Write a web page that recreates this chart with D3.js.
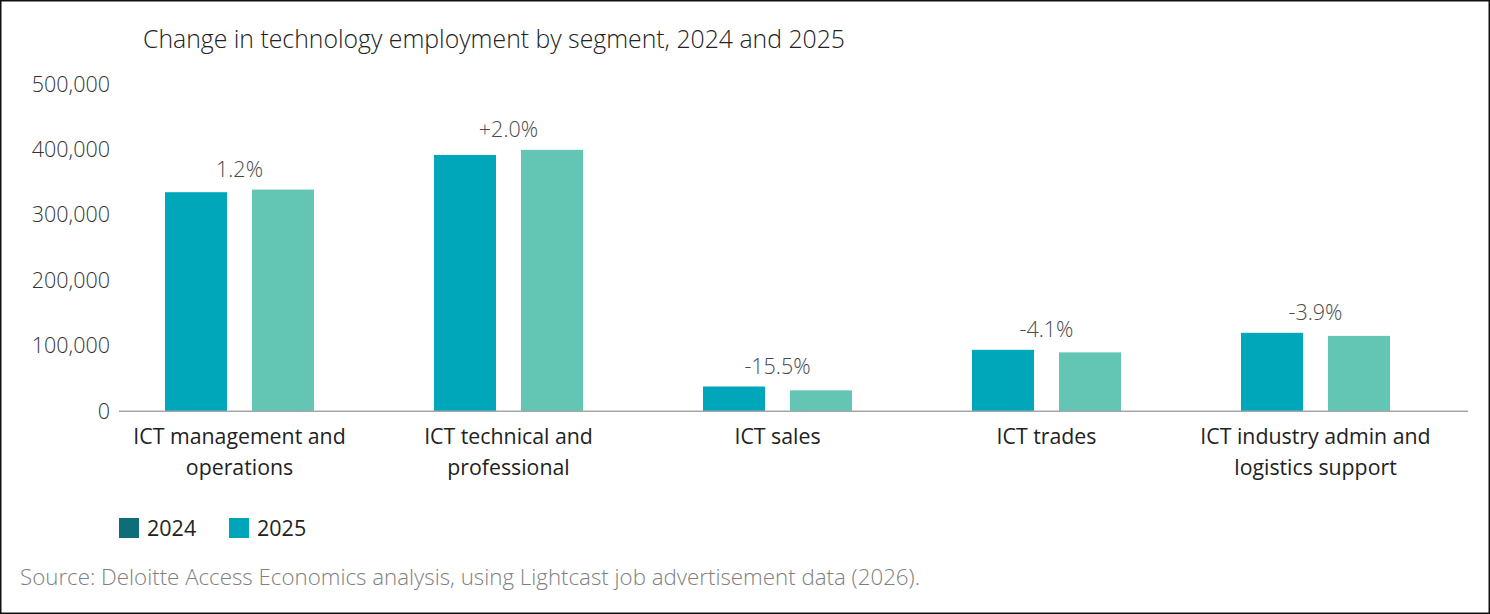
<!DOCTYPE html>
<html>
<head>
<meta charset="utf-8">
<script src="https://cdn.jsdelivr.net/npm/d3@7"></script>
<style>
  html, body { margin: 0; padding: 0; background: #fff; }
  svg { display: block; font-family: "Open Sans", sans-serif; }
</style>
</head>
<body>
<div id="chart"></div>
<script>
// data
var segments = [
    ["ICT management and", "operations"],
    ["ICT technical and", "professional"],
    ["ICT sales"],
    ["ICT trades"],
    ["ICT industry admin and", "logistics support"]
];
var years = ["2024", "2025"];
var jobs2024 = [335000, 392000, 37900, 94000, 120000];
var jobs2025 = [339000, 399800, 32000, 90100, 115300];
var changeLabels = ["1.2%", "+2.0%", "-15.5%", "-4.1%", "-3.9%"];
var yTicks = [0, 100000, 200000, 300000, 400000, 500000];

var barColors = {"2024": "#00a6ba", "2025": "#63c5b4"};
var legendColors = {"2024": "#0f6d7a", "2025": "#00a5b9"};

var width = 1490, height = 614;

var svg = d3.select("#chart").append("svg")
    .attr("width", width)
    .attr("height", height);

// thin frame round the picture
svg.append("rect")
    .attr("x", 0.75).attr("y", 0.75)
    .attr("width", width - 1.5).attr("height", height - 1.5)
    .attr("fill", "none").attr("stroke", "#111").attr("stroke-width", 1.5);

svg.append("text")
    .attr("x", 143).attr("y", 39).attr("dy", "0.35em")
    .attr("fill", "#222")
    .style("font-size", "24.8px").style("font-weight", 300)
    .text("Change in technology employment by segment, 2024 and 2025");

var keys = segments.map(function (d) { return d.join(" "); });

var x0 = d3.scaleBand().domain(keys).range([105, 1450])
    .paddingInner(0.446).paddingOuter(0.223);
var x1 = d3.scaleBand().domain(years).range([0, x0.bandwidth()])
    .paddingInner(0.287);
var y = d3.scaleLinear().domain([0, 500000]).range([411.3, 84.3]);

var rows = keys.map(function (k, i) {
    return {key: k, lines: segments[i], label: changeLabels[i],
            vals: [{year: "2024", v: jobs2024[i]}, {year: "2025", v: jobs2025[i]}]};
});

// y axis labels only, no line or ticks
var yAxis = svg.append("g")
    .attr("transform", "translate(110,0)")
    .call(d3.axisLeft(y).tickValues(yTicks).tickSize(0).tickPadding(0)
        .tickFormat(d3.format(",")));
yAxis.select(".domain").remove();
yAxis.selectAll("text")
    .attr("fill", "#333")
    .style("font-size", "21.5px")
    .style("font-weight", 300)
    .style("font-family", "Open Sans, sans-serif");

var groups = svg.selectAll(".seg")
    .data(rows)
    .enter().append("g")
    .attr("class", "seg")
    .attr("transform", function (d) { return "translate(" + x0(d.key) + ",0)"; });

groups.selectAll("rect")
    .data(function (d) { return d.vals; })
    .enter().append("rect")
    .attr("x", function (d) { return x1(d.year); })
    .attr("y", function (d) { return y(d.v); })
    .attr("width", x1.bandwidth())
    .attr("height", function (d) { return y(0) - y(d.v); })
    .attr("fill", function (d) { return barColors[d.year]; });

groups.append("text")
    .attr("x", x0.bandwidth() / 2)
    .attr("y", function (d) { return y(d3.max(d.vals, function (v) { return v.v; })) - 20; })
    .attr("dy", "0.35em")
    .attr("text-anchor", "middle")
    .attr("fill", "#4a4a4a")
    .style("font-size", "21.5px").style("font-weight", 300)
    .text(function (d) { return d.label; });

// baseline
svg.append("line")
    .attr("x1", 119).attr("x2", 1468)
    .attr("y1", y(0)).attr("y2", y(0))
    .attr("stroke", "#a6a6a6").attr("stroke-width", 1.5);

// category labels
groups.append("text")
    .attr("text-anchor", "middle")
    .attr("fill", "#222")
    .style("font-size", "21.3px")
    .selectAll("tspan")
    .data(function (d) { return d.lines; })
    .enter().append("tspan")
    .attr("x", x0.bandwidth() / 2)
    .attr("y", function (d, i) { return 437 + i * 31; })
    .attr("dy", "0.35em")
    .text(function (d) { return d; });

// legend
var legend = svg.selectAll(".legend")
    .data(years)
    .enter().append("g")
    .attr("class", "legend")
    .attr("transform", function (d, i) { return "translate(" + (119 + i * 110) + ",518)"; });
legend.append("rect")
    .attr("width", 20).attr("height", 20)
    .attr("fill", function (d) { return legendColors[d]; });
legend.append("text")
    .attr("x", 28).attr("y", 10).attr("dy", "0.35em")
    .attr("fill", "#222")
    .style("font-size", "21.5px")
    .text(function (d) { return d; });

svg.append("text")
    .attr("x", 20).attr("y", 577).attr("dy", "0.35em")
    .attr("fill", "#808080")
    .style("font-size", "22.3px").style("font-weight", 300)
    .text("Source: Deloitte Access Economics analysis, using Lightcast job advertisement data (2026).");
</script>
</body>
</html>
